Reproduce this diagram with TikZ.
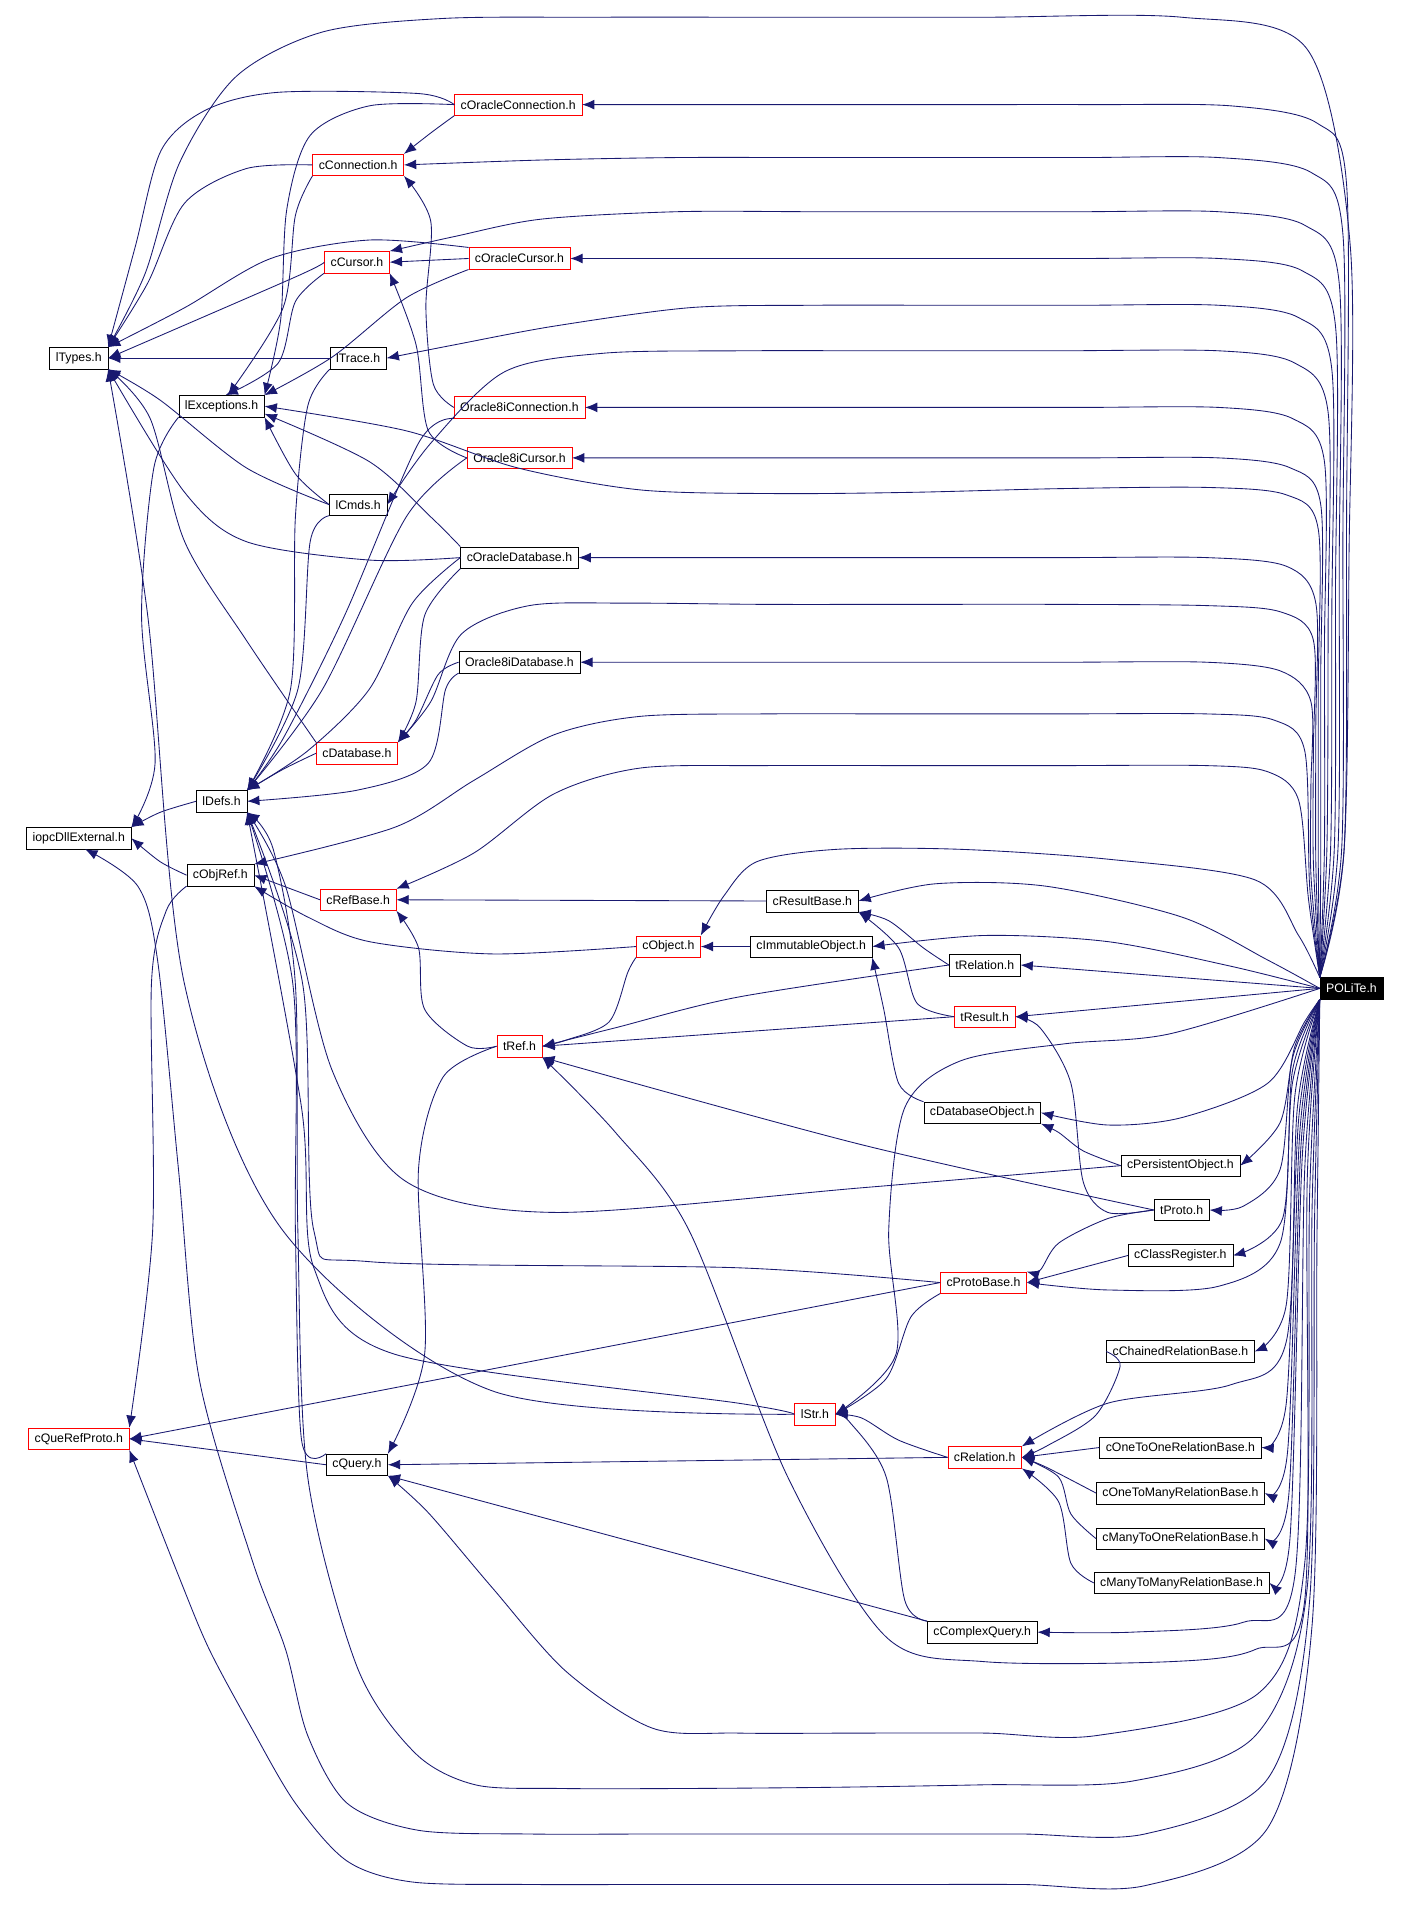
\documentclass[tikz,border=0pt]{standalone}
\usepackage{fontspec}
\setmainfont{Liberation Sans}
\usetikzlibrary{arrows.meta}
\definecolor{edgeblue}{HTML}{191970}
\begin{document}
\begin{tikzpicture}[x=1pt,y=-1pt,
	file/.style={draw,thin,font=\fontsize{10}{12}\selectfont,inner xsep=5pt,inner ysep=2pt,minimum height=17.5pt},
	redfile/.style={file,draw=red},
	dep/.style={draw=edgeblue,line width=0.7pt,-{Latex[length=10pt,width=8pt]}}]

	\useasboundingbox (0,0) rectangle (1145,1568);

	\node[file] (types) at (64,291) {lTypes.h};
	\node[redfile] (oconn) at (421,85) {cOracleConnection.h};
	\node[redfile] (conn) at (291,134) {cConnection.h};
	\node[redfile] (cursor) at (290,213) {cCursor.h};
	\node[redfile] (ocursor) at (422,210) {cOracleCursor.h};
	\node[file] (trace) at (291,291) {lTrace.h};
	\node[file] (excep) at (180,330) {lExceptions.h};
	\node[redfile] (o8conn) at (422,331) {Oracle8iConnection.h};
	\node[redfile] (o8cursor) at (422,372) {Oracle8iCursor.h};
	\node[file] (cmds) at (291,410) {lCmds.h};
	\node[file] (odb) at (422,453) {cOracleDatabase.h};
	\node[file] (o8db) at (422,538) {Oracle8iDatabase.h};
	\node[redfile] (db) at (290,612) {cDatabase.h};
	\node[file] (defs) at (180,651) {lDefs.h};
	\node[file] (dll) at (64,681) {iopcDllExternal.h};
	\node[file] (objref) at (179,711) {cObjRef.h};
	\node[redfile] (refbase) at (291,731) {cRefBase.h};
	\node[file] (resbase) at (660,732) {cResultBase.h};
	\node[redfile] (object) at (543,769) {cObject.h};
	\node[file] (immut) at (659,769) {cImmutableObject.h};
	\node[file] (trel) at (800,784) {tRelation.h};
	\node[file,fill=black,text=white] (pol) at (1098,803) {POLiTe.h};
	\node[redfile] (tres) at (800,826) {tResult.h};
	\node[redfile] (tref) at (422,850) {tRef.h};
	\node[file] (dbobj) at (798,904) {cDatabaseObject.h};
	\node[file] (persist) at (959,947) {cPersistentObject.h};
	\node[file] (tproto) at (960,983) {tProto.h};
	\node[file] (classreg) at (959,1020) {cClassRegister.h};
	\node[redfile] (protobase) at (799,1042) {cProtoBase.h};
	\node[file] (chained) at (959,1098) {cChainedRelationBase.h};
	\node[redfile] (lstr) at (662,1149) {lStr.h};
	\node[redfile] (relation) at (800,1184) {cRelation.h};
	\node[redfile] (querp) at (64,1169) {cQueRefProto.h};
	\node[file] (query) at (290,1190) {cQuery.h};
	\node[file] (one2one) at (959,1176) {cOneToOneRelationBase.h};
	\node[file] (one2many) at (959,1213) {cOneToManyRelationBase.h};
	\node[file] (many2one) at (959,1250) {cManyToOneRelationBase.h};
	\node[file] (many2many) at (960,1286) {cManyToManyRelationBase.h};
	\node[file] (cplx) at (798,1326) {cComplexQuery.h};

	% POLiTe.h, upwards
	\draw[dep] plot[smooth] coordinates {(pol.north west) (1092,690) (1096,450) (1097,200) (1062,40) (960,14) (800,14) (640,14) (480,14) (360,15) (262,26) (192,62) (146,132) (118,222) (types.north east)};
	\draw[dep] plot[smooth] coordinates {(pol.north west) (1092,690) (1094,420) (1094,150) (1070,100) (1000,86) (890,85) (780,85) (670,85) (570,85) (oconn.east)};
	\draw[dep] plot[smooth] coordinates {(pol.north west) (1090,690) (1091,440) (1091,190) (1065,140) (990,128) (880,128) (770,128) (660,128) (550,128) (440,130) (conn.east)};
	\draw[dep] plot[smooth] coordinates {(pol.north west) (1087,690) (1088,460) (1088,230) (1060,183) (990,172) (880,172) (770,172) (660,172) (550,172) (440,178) (370,192) (cursor.north east)};
	\draw[dep] plot[smooth] coordinates {(pol.north west) (1084,690) (1085,480) (1085,265) (1058,220) (990,210) (880,210) (770,210) (660,210) (560,210) (ocursor.east)};
	\draw[dep] plot[smooth] coordinates {(pol.north west) (1081,690) (1082,500) (1082,300) (1055,258) (990,248) (880,248) (770,248) (660,248) (560,250) (450,265) (370,280) (trace.east)};
	\draw[dep] plot[smooth] coordinates {(pol.north west) (1078,690) (1079,510) (1079,335) (1052,295) (990,285) (860,285) (730,285) (600,285) (490,287) (410,302) (350,360) (cmds.east)};
	\draw[dep] plot[smooth] coordinates {(pol.north west) (1076,690) (1076,530) (1076,375) (1050,340) (990,331) (880,331) (770,331) (670,331) (580,331) (o8conn.east)};
	\draw[dep] plot[smooth] coordinates {(pol.north west) (1073,700) (1073,550) (1073,410) (1048,380) (990,372) (880,372) (770,372) (670,372) (570,372) (o8cursor.east)};
	\draw[dep] plot[smooth] coordinates {(pol.north west) (1071,700) (1071,560) (1071,430) (1045,402) (980,396) (860,397) (740,400) (630,401) (520,398) (420,380) (330,350) (excep.east)};
	\draw[dep] plot[smooth] coordinates {(pol.north west) (1069,700) (1069,590) (1069,490) (1045,460) (980,453) (870,453) (760,453) (660,453) (570,453) (odb.east)};
	\draw[dep] plot[smooth] coordinates {(pol.north west) (1067,700) (1067,610) (1067,520) (1040,497) (980,492) (860,491) (740,491) (620,491) (510,490) (430,492) (375,515) (350,570) (db.north east)};
	\draw[dep] plot[smooth] coordinates {(pol.north west) (1065,710) (1065,640) (1065,570) (1040,545) (980,538) (870,538) (760,538) (660,538) (570,538) (o8db.east)};
	\draw[dep] plot[smooth] coordinates {(pol.north west) (1064,720) (1060,610) (1035,585) (980,580) (860,580) (740,580) (620,580) (520,582) (450,597) (385,634) (321,672) (objref.north east)};
	\draw[dep] plot[smooth] coordinates {(pol.north west) (1063,730) (1055,650) (1030,627) (980,622) (860,622) (740,622) (620,622) (520,624) (450,645) (385,693) (refbase.north east)};
	\draw[dep] plot[smooth] coordinates {(pol.north west) (1055,760) (1020,715) (900,698) (780,690) (680,690) (615,700) (588,728) (object.north east)};
	\draw[dep] plot[smooth] coordinates {(pol.west) (1030,780) (960,745) (850,720) (760,718) (resbase.east)};
	\draw[dep] plot[smooth] coordinates {(pol.west) (1000,785) (900,765) (800,760) (immut.east)};
	\draw[dep] (pol.west) -- (trel.east);
	\draw[dep] (pol.west) -- (tres.east);

	% POLiTe.h, downwards
	\draw[dep] plot[smooth] coordinates {(pol.south west) (1060,830) (1030,880) (960,908) (900,914) (dbobj.east)};
	\draw[dep] plot[smooth] coordinates {(pol.south west) (1052,850) (1040,912) (persist.east)};
	\draw[dep] plot[smooth] coordinates {(pol.south west) (1050,860) (1040,950) (1010,980) (tproto.east)};
	\draw[dep] plot[smooth] coordinates {(pol.south west) (1050,870) (1042,990) (classreg.east)};
	\draw[dep] plot[smooth] coordinates {(pol.south west) (1050,880) (1040,1010) (990,1045) (900,1048) (protobase.east)};
	\draw[dep] plot[smooth] coordinates {(pol.south west) (1052,890) (1045,1060) (chained.east)};
	\draw[dep] plot[smooth] coordinates {(pol.south west) (1054,900) (1045,1090) (1000,1125) (900,1140) (relation.north east)};
	\draw[dep] plot[smooth] coordinates {(pol.south west) (1055,910) (1045,1140) (one2one.east)};
	\draw[dep] plot[smooth] coordinates {(pol.south west) (1056,920) (1046,1180) (one2many.east)};
	\draw[dep] plot[smooth] coordinates {(pol.south west) (1057,930) (1047,1215) (many2one.east)};
	\draw[dep] plot[smooth] coordinates {(pol.south west) (1058,940) (1048,1250) (many2many.east)};
	\draw[dep] plot[smooth] coordinates {(pol.south west) (1060,950) (1052,1280) (1010,1318) (920,1326) (cplx.east)};
	\draw[dep] plot[smooth] coordinates {(pol.west) (950,840) (865,848) (780,862) (735,900) (722,1000) (728,1100) (lstr.east)};
	\draw[dep] plot[smooth] coordinates {(pol.south west) (1062,960) (1060,1300) (1020,1340) (950,1350) (800,1350) (720,1330) (640,1200) (560,1000) (500,920) (tref.south east)};
	\draw[dep] plot[smooth] coordinates {(pol.south west) (1064,970) (1060,1270) (1022,1376) (891,1410) (800,1408) (700,1408) (600,1408) (530,1404) (460,1358) (400,1290) (348,1229) (query.south east)};
	\draw[dep] plot[smooth] coordinates {(pol.south west) (1066,980) (1062,1290) (1020,1410) (920,1447) (800,1450) (680,1452) (560,1453) (455,1453) (386,1450) (337,1424) (290,1354) (250,1200) (242,1000) (240,800) (222,690) (defs.south east)};
	\draw[dep] plot[smooth] coordinates {(pol.south west) (1068,990) (1064,1300) (1030,1445) (930,1490) (830,1490) (730,1490) (630,1490) (530,1490) (430,1490) (340,1487) (282,1465) (250,1410) (232,1340) (205,1268) (162,1121) (145,950) (128,780) (112,720) (dll.-60)};
	\draw[dep] plot[smooth] coordinates {(pol.south west) (1070,1000) (1066,1320) (1030,1485) (930,1532) (830,1531) (730,1531) (630,1531) (530,1531) (430,1531) (335,1529) (282,1512) (240,1465) (205,1405) (170,1340) (145,1280) (querp.south east)};

	% upper part
	\draw[dep] plot[smooth] coordinates {(oconn.west) (340,76) (226,75) (168,89) (131,122) (110,200) (types.north east)};
	\draw[dep] plot[smooth] coordinates {(oconn.west) (300,86) (252,110) (233,170) (228,260) (excep.north east)};
	\draw[dep] plot[smooth] coordinates {(oconn.south west) (350,108) (conn.north east)};
	\draw[dep] plot[smooth] coordinates {(conn.west) (200,137) (150,165) (120,230) (types.north east)};
	\draw[dep] plot[smooth] coordinates {(conn.south west) (240,175) (230,250) (excep.60)};
	\draw[dep] plot[smooth] coordinates {(cursor.west) (240,225) (types.east)};
	\draw[dep] plot[smooth] coordinates {(cursor.south west) (240,245) (226,295) (excep.70)};
	\draw[dep] (ocursor.west) -- (cursor.east);
	\draw[dep] plot[smooth] coordinates {(ocursor.north west) (300,195) (220,210) (150,250) (types.north east)};
	\draw[dep] plot[smooth] coordinates {(ocursor.south west) (330,242) (270,290) (excep.north east)};
	\draw[dep] plot[smooth] coordinates {(o8conn.west) (352,312) (346,250) (350,180) (conn.south east)};
	\draw[dep] plot[smooth] coordinates {(o8cursor.west) (348,350) (338,280) (cursor.south east)};
	\draw[dep] (trace.west) -- (types.east);
	\draw[dep] plot[smooth] coordinates {(trace.south west) (250,330) (240,420) (236,560) (defs.north east)};
	\draw[dep] plot[smooth] coordinates {(cmds.west) (200,380) (130,325) (types.south east)};
	\draw[dep] plot[smooth] coordinates {(cmds.west) (240,385) (excep.south east)};
	\draw[dep] plot[smooth] coordinates {(cmds.south west) (252,440) (242,560) (defs.north east)};
	\draw[dep] plot[smooth] coordinates {(odb.west) (300,455) (200,440) (150,400) (types.south east)};
	\draw[dep] plot[smooth] coordinates {(odb.north west) (350,420) (300,375) (excep.-10)};
	\draw[dep] plot[smooth] coordinates {(odb.south west) (345,500) (338,570) (db.north east)};
	\draw[dep] plot[smooth] coordinates {(odb.west) (335,490) (300,560) (250,610) (defs.north east)};
	\draw[dep] plot[smooth] coordinates {(o8db.west) (356,548) (338,585) (db.north east)};
	\draw[dep] plot[smooth] coordinates {(o8db.south west) (362,560) (348,620) (290,642) (defs.east)};
	\draw[dep] plot[smooth] coordinates {(o8conn.south west) (340,360) (280,500) (230,600) (defs.north east)};
	\draw[dep] plot[smooth] coordinates {(o8cursor.west) (330,420) (262,560) (defs.north east)};
	\draw[dep] plot[smooth] coordinates {(db.north west) (200,520) (150,440) (122,340) (types.south east)};
	\draw[dep] plot[smooth] coordinates {(db.west) (230,625) (defs.north east)};

	% lower left part
	\draw[dep] plot[smooth] coordinates {(defs.west) (130,660) (dll.north east)};
	\draw[dep] plot[smooth] coordinates {(excep.south west) (125,380) (115,500) (126,620) (dll.north east)};
	\draw[dep] plot[smooth] coordinates {(objref.west) (130,700) (dll.east)};
	\draw[dep] plot[smooth] coordinates {(objref.south west) (135,740) (123,800) (124,1000) (querp.north east)};
	\draw[dep] (refbase.west) -- (objref.east);
	\draw[dep] plot[smooth] coordinates {(object.west) (400,775) (300,765) (250,745) (objref.south east)};
	\draw[dep] (resbase.west) -- (refbase.east);
	\draw[dep] (immut.west) -- (object.east);
	\draw[dep] plot[smooth] coordinates {(trel.west) (750,770) (722,748) (resbase.south east)};
	\draw[dep] plot[smooth] coordinates {(tres.west) (745,815) (730,770) (resbase.south east)};
	\draw[dep] plot[smooth] coordinates {(trel.west) (600,810) (500,835) (tref.east)};
	\draw[dep] (tres.west) -- (tref.east);
	\draw[dep] plot[smooth] coordinates {(object.south west) (510,790) (495,830) (460,845) (tref.east)};
	\draw[dep] plot[smooth] coordinates {(tref.west) (380,850) (345,820) (340,770) (refbase.south east)};
	\draw[dep] plot[smooth] coordinates {(tref.west) (360,875) (340,950) (345,1100) (query.north east)};
	\draw[dep] plot[smooth] coordinates {(tproto.west) (700,930) (tref.south east)};
	\draw[dep] plot[smooth] coordinates {(tproto.west) (900,985) (880,960) (870,880) (845,835) (tres.east)};
	\draw[dep] plot[smooth] coordinates {(tproto.west) (900,990) (860,1010) (845,1032) (protobase.north east)};
	\draw[dep] plot[smooth] coordinates {(dbobj.north west) (730,880) (718,820) (immut.south east)};
	\draw[dep] plot[smooth] coordinates {(persist.west) (880,935) (860,920) (dbobj.south east)};
	\draw[dep] plot[smooth] coordinates {(persist.west) (700,965) (450,985) (330,960) (270,870) (232,720) (defs.south east)};
	\draw[dep] (classreg.west) -- (protobase.east);
	\draw[dep] (protobase.west) -- (querp.east);
	\draw[dep] plot[smooth] coordinates {(protobase.south west) (740,1070) (720,1120) (lstr.east)};
	\draw[dep] plot[smooth] coordinates {(protobase.west) (600,1030) (300,1025) (255,1000) (246,800) (defs.south east)};
	\draw[dep] plot[smooth] coordinates {(relation.west) (730,1170) (700,1152) (lstr.east)};
	\draw[dep] (relation.west) -- (query.east);
	\draw[dep] plot[smooth] coordinates {(chained.west) (910,1110) (890,1150) (850,1175) (relation.east)};
	\draw[dep] (one2one.west) -- (relation.east);
	\draw[dep] plot[smooth] coordinates {(one2many.west) (850,1192) (relation.east)};
	\draw[dep] plot[smooth] coordinates {(many2one.west) (870,1230) (860,1200) (relation.east)};
	\draw[dep] plot[smooth] coordinates {(many2many.west) (870,1270) (860,1220) (relation.south east)};
	\draw[dep] (cplx.north west) -- (query.south east);
	\draw[dep] plot[smooth] coordinates {(cplx.north west) (735,1300) (720,1200) (690,1155) (lstr.east)};
	\draw[dep] (query.west) -- (querp.east);
	\draw[dep] plot[smooth] coordinates {(query.north west) (245,1170) (240,1000) (238,800) (defs.south east)};
	\draw[dep] plot[smooth] coordinates {(lstr.west) (400,1130) (230,1000) (150,800) (120,500) (types.south east)};
	\draw[dep] plot[smooth] coordinates {(lstr.west) (600,1140) (320,1100) (255,1030) (245,900) (defs.south east)};

\end{tikzpicture}
\end{document}
